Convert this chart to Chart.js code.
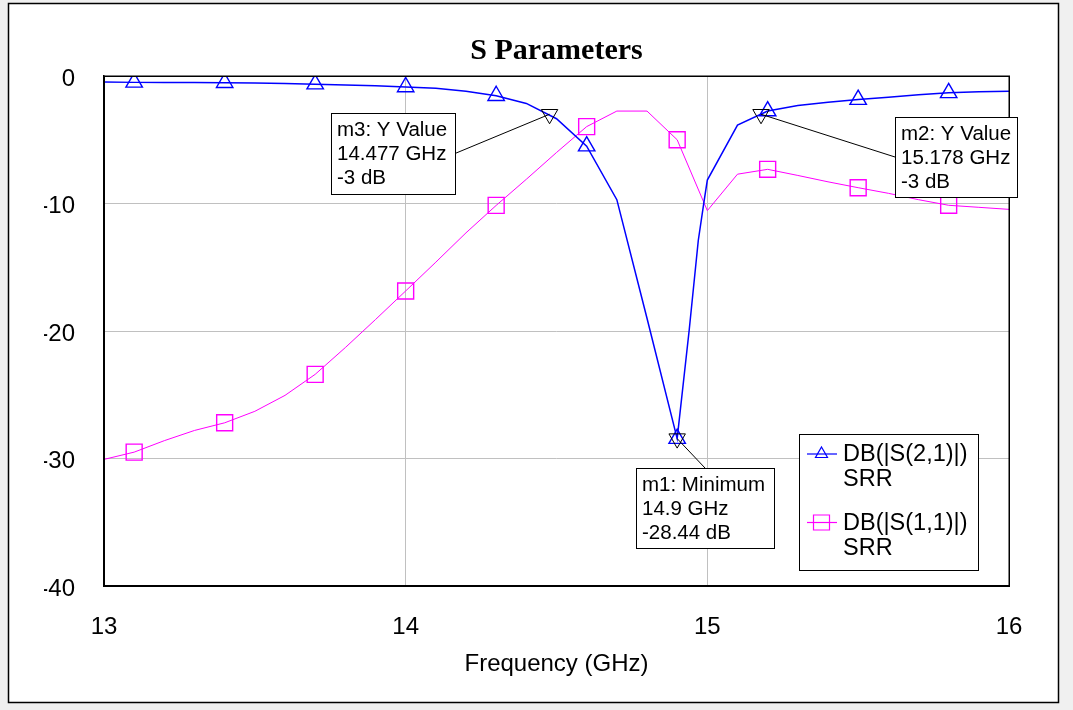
<!DOCTYPE html>
<html><head><meta charset="utf-8">
<script src="https://cdn.jsdelivr.net/npm/chart.js@4.4.0/dist/chart.umd.min.js"></script>
<style>
html,body{margin:0;padding:0;background:#f0f0f0;overflow:hidden;}
#wrap{position:absolute;left:0;top:0;width:1073px;height:710px;}
canvas{display:block;}
</style></head><body>
<div id="wrap"><canvas id="c" width="1073" height="710"></canvas></div>
<script>
// ---- data ----
const s21Freq = [13.0,13.1,13.2,13.3,13.4,13.5,13.6,13.7,13.8,13.9,14.0,14.1,14.2,14.3,14.4,14.5,14.6,14.7,14.8,14.9,14.94,14.97,14.99,15.0,15.1,15.2,15.3,15.4,15.5,15.6,15.7,15.8,15.9,16.0];
const s21Db   = [-0.48,-0.50,-0.50,-0.51,-0.53,-0.55,-0.59,-0.64,-0.70,-0.77,-0.86,-0.97,-1.20,-1.55,-2.15,-3.35,-5.50,-9.70,-19.0,-28.44,-19.9,-12.9,-9.7,-8.16,-3.85,-2.75,-2.32,-2.06,-1.85,-1.67,-1.47,-1.32,-1.24,-1.20];
const s11Freq = [13.0,13.1,13.2,13.3,13.4,13.5,13.6,13.7,13.8,13.9,14.0,14.1,14.2,14.3,14.4,14.5,14.6,14.7,14.8,14.9,15.0,15.1,15.2,15.3,15.4,15.5,15.6,15.7,15.8,15.9,16.0];
const s11Db   = [-30.07,-29.5,-28.6,-27.8,-27.2,-26.3,-25.05,-23.4,-21.3,-19.1,-16.86,-14.6,-12.3,-10.15,-8.1,-6.0,-3.97,-2.75,-2.75,-5.0,-10.56,-7.7,-7.32,-7.8,-8.3,-8.76,-9.2,-9.7,-10.14,-10.3,-10.46];
const xTickValues = [13,14,15,16];
const yTickValues = [0,-10,-20,-30,-40];
const seriesNames = ['DB(|S(2,1)|)','DB(|S(1,1)|)'];
const seriesSub = ['SRR','SRR'];
const markerNames = ['m1','m2','m3'];
const markerKinds = ['Minimum','Y Value','Y Value'];
const markerFreq = [14.9,15.178,14.477];
const markerDb = [-28.44,-3,-3];
const titleText = 'S Parameters';
const xTitle = 'Frequency (GHz)';

// ---- styling / layout ----
const BLUE = '#0000ff', MAG = '#ff00ff';
const SANS = '"Liberation Sans", Arial, sans-serif';
const TRI_R = 9.5, RECT_R = 11.3;
const markerBoxes = [ // annotation box placement (pixels)
  {x:636, y:468, w:138, h:80, edge:'top'},
  {x:895, y:117, w:122, h:80, edge:'left'},
  {x:331, y:113, w:124, h:81, edge:'right'}
];
function isSymbolX(x){ const k=(x-13.1)/0.3; return k>-1e-6 && Math.abs(k-Math.round(k))<1e-6; }

const pts = (xs,ys)=>xs.map((x,i)=>({x:x,y:ys[i]}));

const decor = {
  id:'decor',
  beforeDraw(chart){
    const ctx=chart.ctx;
    ctx.save();
    ctx.fillStyle='#f0f0f0'; ctx.fillRect(0,0,chart.width,chart.height);
    ctx.fillStyle='#ffffff'; ctx.fillRect(8,3,1051,700);
    ctx.strokeStyle='#000'; ctx.lineWidth=1.5; ctx.strokeRect(8.5,3.5,1050,699);
    ctx.restore();
  },
  afterDraw(chart){
    const ctx=chart.ctx, a=chart.chartArea;
    const xs=chart.scales.x, ys=chart.scales.y;
    ctx.save();
    // plot frame
    ctx.strokeStyle='#000'; ctx.lineWidth=1.5;
    ctx.strokeRect(Math.round(a.left)+0.25, Math.round(a.top)+0.25, Math.round(a.right-a.left), Math.round(a.bottom-a.top));
    // title
    ctx.fillStyle='#000'; ctx.font='bold 30px "Liberation Serif", "Times New Roman", serif';
    ctx.textAlign='center'; ctx.textBaseline='middle';
    ctx.fillText(titleText,(a.left+a.right)/2,51);
    // marker annotations
    ctx.font='20.5px '+SANS; ctx.textAlign='left';
    markerNames.forEach((n,i)=>{
      const b=markerBoxes[i];
      const px=xs.getPixelForValue(markerFreq[i]), py=ys.getPixelForValue(markerDb[i]);
      let ex,ey;
      if(b.edge==='top'){ex=b.x+b.w/2;ey=b.y;}
      else if(b.edge==='left'){ex=b.x;ey=b.y+b.h/2;}
      else {ex=b.x+b.w;ey=b.y+b.h/2;}
      ctx.strokeStyle='#000'; ctx.lineWidth=1;
      ctx.beginPath(); ctx.moveTo(px,py); ctx.lineTo(ex,ey); ctx.stroke();
      ctx.fillStyle='#fff'; ctx.fillRect(b.x,b.y,b.w,b.h);
      ctx.strokeRect(b.x+0.5,b.y+0.5,b.w,b.h);
      ctx.fillStyle='#000';
      const lines=[n+': '+markerKinds[i], markerFreq[i]+' GHz', markerDb[i]+' dB'];
      lines.forEach((t,j)=>ctx.fillText(t,b.x+6,b.y+17+24*j));
    });
    // legend
    const L={x:799,y:434,w:179,h:136};
    ctx.fillStyle='#fff'; ctx.fillRect(L.x,L.y,L.w,L.h);
    ctx.strokeStyle='#000'; ctx.lineWidth=1; ctx.strokeRect(L.x+0.5,L.y+0.5,L.w,L.h);
    const rows=[{c:BLUE,ly:454,t1:455,t2:480,sym:'tri'},{c:MAG,ly:522.5,t1:524,t2:549,sym:'rect'}];
    ctx.font='23.5px '+SANS;
    rows.forEach((r,i)=>{
      ctx.strokeStyle=r.c; ctx.lineWidth=1.2;
      ctx.beginPath(); ctx.moveTo(807,r.ly); ctx.lineTo(837,r.ly); ctx.stroke();
      ctx.beginPath();
      if(r.sym==='tri'){ctx.moveTo(821.5,r.ly-7);ctx.lineTo(827.5,r.ly+3.5);ctx.lineTo(815.5,r.ly+3.5);ctx.closePath();}
      else {ctx.rect(813.5,r.ly-7.5,16,15);}
      ctx.stroke();
      ctx.fillStyle='#000';
      ctx.fillText(seriesNames[i],843,r.t1);
      ctx.fillText(seriesSub[i],843,r.t2);
    });
    ctx.restore();
  }
};

const gridColor = (c)=>{ const v=c.tick&&c.tick.value; return (v===13||v===16||v===0||v===-40)?'rgba(0,0,0,0)':'#c0c0c0'; };

new Chart(document.getElementById('c'),{
  type:'scatter',
  data:{datasets:[
    {label:'markers', data:pts(markerFreq,markerDb), showLine:false,
     pointStyle:'triangle', rotation:180, pointRadius:TRI_R, pointHoverRadius:TRI_R,
     pointBorderColor:'#000', pointBackgroundColor:'rgba(0,0,0,0)', pointBorderWidth:1},
    {label:seriesNames[0], data:pts(s21Freq,s21Db), showLine:true, tension:0,
     borderColor:BLUE, borderWidth:1.5, pointStyle:'triangle',
     pointRadius:(c)=>isSymbolX(c.raw.x)?TRI_R:0, pointHoverRadius:(c)=>isSymbolX(c.raw.x)?TRI_R:0,
     pointBorderColor:BLUE, pointBackgroundColor:'rgba(0,0,0,0)', pointBorderWidth:1.4},
    {label:seriesNames[1], data:pts(s11Freq,s11Db), showLine:true, tension:0,
     borderColor:MAG, borderWidth:1, pointStyle:'rect',
     pointRadius:(c)=>isSymbolX(c.raw.x)?RECT_R:0, pointHoverRadius:(c)=>isSymbolX(c.raw.x)?RECT_R:0,
     pointBorderColor:MAG, pointBackgroundColor:'rgba(0,0,0,0)', pointBorderWidth:1.4}
  ]},
  options:{
    responsive:false, animation:false, devicePixelRatio:1,
    events:[],
    layout:{padding:{left:44,right:64,top:76,bottom:24}},
    plugins:{legend:{display:false},tooltip:{enabled:false},title:{display:false}},
    scales:{
      x:{type:'linear',position:'bottom',min:13,max:16,
        afterFit:(s)=>{s.height=100;},
        afterBuildTicks:(s)=>{s.ticks=xTickValues.map(v=>({value:v}));},
        ticks:{color:'#000',font:{family:SANS,size:24},padding:27,maxRotation:0,autoSkip:false},
        grid:{color:gridColor,lineWidth:1,drawTicks:false},
        border:{display:true,color:'#000',width:1.5},
        title:{display:true,text:xTitle,color:'#000',font:{family:SANS,size:24},padding:{top:0,bottom:7}}},
      y:{type:'linear',min:-40,max:0,
        afterFit:(s)=>{s.width=60;},
        afterBuildTicks:(s)=>{s.ticks=yTickValues.map(v=>({value:v}));},
        ticks:{color:'#000',font:{family:SANS,size:24},padding:29,labelOffset:3,autoSkip:false},
        grid:{color:gridColor,lineWidth:1,drawTicks:false},
        border:{display:true,color:'#000',width:1.5}}
    }
  },
  plugins:[decor]
});
</script>
</body></html>
